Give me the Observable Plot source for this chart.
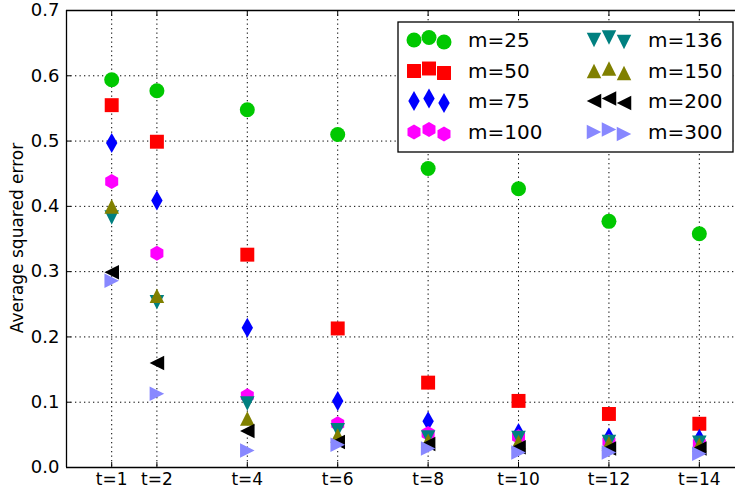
<!DOCTYPE html>
<html>
<head>
<meta charset="utf-8">
<script src="https://cdn.jsdelivr.net/npm/d3@7"></script>
<script src="https://cdn.jsdelivr.net/npm/@observablehq/plot@0.6"></script>
<style>
  html, body { margin: 0; padding: 0; background: #fff; }
  #wrap { position: relative; width: 735px; height: 488px; font-family: "DejaVu Sans", sans-serif; }
  #legend { position: absolute; left: 0; top: 0; }
</style>
</head>
<body>
<div id="wrap"></div>
<script>
// ---- data ----
const tValues = [1, 2, 4, 6, 8, 10, 12, 14];
const tLabels = ["t=1", "t=2", "t=4", "t=6", "t=8", "t=10", "t=12", "t=14"];
const yTicks = [0, 0.1, 0.2, 0.3, 0.4, 0.5, 0.6, 0.7];
const yLabel = "Average squared error";
const seriesNames = ["m=25", "m=50", "m=75", "m=100", "m=136", "m=150", "m=200", "m=300"];
const m25  = [0.594, 0.577, 0.548, 0.510, 0.458, 0.427, 0.377, 0.358];
const m50  = [0.555, 0.499, 0.326, 0.213, 0.130, 0.102, 0.082, 0.067];
const m75  = [0.497, 0.409, 0.214, 0.102, 0.071, 0.053, 0.046, 0.044];
const m100 = [0.438, 0.328, 0.110, 0.067, 0.052, 0.047, 0.040, 0.037];
const m136 = [0.383, 0.253, 0.098, 0.057, 0.046, 0.045, 0.039, 0.038];
const m150 = [0.400, 0.263, 0.075, 0.049, 0.041, 0.039, 0.037, 0.035];
const m200 = [0.299, 0.160, 0.056, 0.039, 0.036, 0.031, 0.029, 0.029];
const m300 = [0.286, 0.113, 0.026, 0.035, 0.029, 0.023, 0.023, 0.021];
const seriesValues = [m25, m50, m75, m100, m136, m150, m200, m300];
const seriesColors = ["#00c800", "#ff0000", "#0000ff", "#ff00ff", "#008080", "#808000", "#000000", "#8888ff"];

// ---- custom marker shapes (matplotlib-like) ----
const rOf = size => Math.sqrt(size / Math.PI);
const poly = (ctx, pts) => { ctx.moveTo(pts[0][0], pts[0][1]); for (let i = 1; i < pts.length; i++) ctx.lineTo(pts[i][0], pts[i][1]); ctx.closePath(); };
const symCircle = { draw(ctx, size) { const r = rOf(size); ctx.moveTo(r, 0); ctx.arc(0, 0, r, 0, 2 * Math.PI); } };
const symSquare = { draw(ctx, size) { const s = rOf(size) * 0.93; poly(ctx, [[-s, -s], [s, -s], [s, s], [-s, s]]); } };
const symThinDiamond = { draw(ctx, size) { const r = rOf(size), w = r * 0.76, h = r * 1.33; poly(ctx, [[0, -h], [w, 0], [0, h], [-w, 0]]); } };
const symHexagon = { draw(ctx, size) { const r = rOf(size); const pts = []; for (let i = 0; i < 6; i++) { const a = -Math.PI / 2 + i * Math.PI / 3; pts.push([r * Math.cos(a), r * Math.sin(a)]); } poly(ctx, pts); } };
const symTriDown = { draw(ctx, size) { const r = rOf(size) * 0.97; poly(ctx, [[0, r], [-r, -r], [r, -r]]); } };
const symTriUp = { draw(ctx, size) { const r = rOf(size) * 0.97; poly(ctx, [[0, -r], [-r, r], [r, r]]); } };
const symTriLeft = { draw(ctx, size) { const r = rOf(size) * 0.97; poly(ctx, [[-r, 0], [r, -r], [r, r]]); } };
const symTriRight = { draw(ctx, size) { const r = rOf(size) * 0.97; poly(ctx, [[r, 0], [-r, -r], [-r, r]]); } };
const seriesSymbols = [symCircle, symSquare, symThinDiamond, symHexagon, symTriDown, symTriUp, symTriLeft, symTriRight];

const rows = [];
seriesNames.forEach((name, si) => {
  tValues.forEach((t, ti) => rows.push({ series: name, si, t, v: seriesValues[si][ti] }));
});

const xDomain = [0, 14.8];
const yDomain = [0, 0.7];
const dotMarks = seriesNames.map((name, si) =>
  Plot.dot(rows.filter(d => d.si === si), {
    x: "t", y: "v", r: 7.5,
    symbol: () => seriesSymbols[si],
    fill: seriesColors[si], stroke: "none"
  })
);

const chart = Plot.plot({
  width: 735,
  height: 488,
  marginLeft: 66,
  marginRight: 0,
  marginTop: 10,
  marginBottom: 21,
  style: { fontFamily: "DejaVu Sans, sans-serif", fontSize: "17px", color: "#000", background: "#fff" },
  x: { domain: xDomain },
  y: { domain: yDomain },
  symbol: { type: "identity" },
  marks: [
    Plot.gridX(tValues, { stroke: "#000", strokeOpacity: 1, strokeDasharray: "1.3,3.2", strokeWidth: 1 }),
    Plot.gridY(yTicks, { stroke: "#000", strokeOpacity: 1, strokeDasharray: "1.3,3.2", strokeWidth: 1 }),
    Plot.axisX(tValues, { anchor: "bottom", tickSize: -5, tickPadding: 10, tickFormat: (d, i) => tLabels[i], label: null, fontSize: 17 }),
    Plot.axisX(tValues, { anchor: "top", tickSize: -5, tickFormat: () => "", label: null }),
    Plot.axisY(yTicks, { anchor: "left", tickSize: -5, tickPadding: 12, tickFormat: d3.format(".1f"), label: null, fontSize: 18 }),
    ...dotMarks,
    Plot.ruleY([yDomain[0]], { stroke: "#000", strokeWidth: 1.3 }),
    Plot.ruleY([yDomain[1]], { stroke: "#000", strokeWidth: 1.3 }),
    Plot.ruleX([xDomain[0]], { stroke: "#000", strokeWidth: 1.3 })
  ]
});
document.getElementById("wrap").appendChild(chart);

// ---- legend overlay + y label ----
const legend = d3.select("#wrap").append("svg")
  .attr("id", "legend").attr("width", 735).attr("height", 488);
legend.append("text")
  .attr("transform", "translate(17,238) rotate(-90)")
  .attr("text-anchor", "middle").attr("dy", "0.36em")
  .attr("font-family", "DejaVu Sans, sans-serif").attr("font-size", 17)
  .text(yLabel);
legend.append("rect").attr("x", 398).attr("y", 22).attr("width", 335).attr("height", 130)
  .attr("fill", "#fff").attr("stroke", "#000").attr("stroke-width", 1.3);
const rowY = [40, 71, 101, 132];
const colMarkX = [414, 594];
const colTextX = [468, 648];
const jitter = [[0, 0], [15, -2.5], [30, 2]];
seriesNames.forEach((name, si) => {
  const col = Math.floor(si / 4), row = si % 4;
  const g = legend.append("g");
  jitter.forEach(([dx, dy]) => {
    g.append("path")
      .attr("d", d3.symbol(seriesSymbols[si], Math.PI * 7.5 * 7.5)())
      .attr("transform", `translate(${colMarkX[col] + dx},${rowY[row] + dy})`)
      .attr("fill", seriesColors[si]);
  });
  g.append("text").attr("x", colTextX[col]).attr("y", rowY[row]).attr("dy", "0.36em")
    .attr("font-family", "DejaVu Sans, sans-serif").attr("font-size", 20).text(name);
});
</script>
</body>
</html>
